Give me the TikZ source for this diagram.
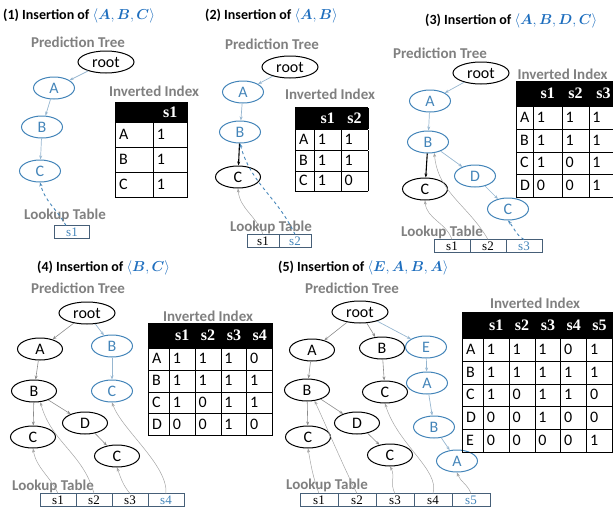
\documentclass[tikz,border=0pt]{standalone}
\usepackage{fontspec}
\setmainfont{Carlito}
\newfontfamily\hdfont{Liberation Serif}
\usepackage{amsmath}
\usepackage{colortbl}
\usetikzlibrary{shapes.geometric,arrows.meta,positioning}
\definecolor{nodeblue}{RGB}{68,133,185}
\definecolor{edgeblue}{RGB}{150,182,208}
\definecolor{edgegray}{RGB}{140,140,140}
\definecolor{ptrgray}{RGB}{165,165,165}
\definecolor{labelgray}{RGB}{128,128,128}
\definecolor{titleblue}{RGB}{30,110,190}
\definecolor{cellborder}{RGB}{70,95,120}
\setlength{\tabcolsep}{3pt}
\setlength{\arrayrulewidth}{0.8pt}
\newcommand{\rh}[1]{\rule[\dimexpr 4.5pt-#1/2\relax]{0pt}{#1}}
\newcommand{\hd}[1]{\makebox[\linewidth]{\color{white}\hdfont\bfseries #1}}
\newcommand{\seq}[1]{{\color{titleblue}$\langle #1\rangle$}}
\begin{document}
\begin{tikzpicture}[x=1pt,y=-1pt,
  >={Stealth[length=4pt,width=3pt]},
  nd/.style={ellipse,draw=black,line width=1pt,minimum width=45pt,minimum height=22pt,inner sep=0pt,font=\fontsize{16}{18}\selectfont},
  bnd/.style={nd,draw=nodeblue,text=nodeblue,minimum width=41pt},
  rnd/.style={nd,minimum width=56pt},
  lbl/.style={text=labelgray,font=\fontsize{15}{17}\selectfont\bfseries},
  ttl/.style={anchor=west,inner sep=0pt,font=\fontsize{14}{16}\selectfont\bfseries},
  tbl/.style={anchor=north west,inner sep=0pt,font=\fontsize{16}{18}\selectfont},
  tedge/.style={->,draw=edgegray,line width=0.6pt},
  bedge/.style={->,draw=edgeblue,line width=0.7pt},
  kedge/.style={->,draw=black,line width=1.1pt},
  lcell/.style={draw=cellborder,line width=0.8pt,minimum width=36pt,minimum height=13pt,inner sep=0pt,outer sep=0pt,font=\hdfont\fontsize{13}{14}\selectfont},
  ncell/.style={lcell,text=nodeblue},
  ptr/.style={->,draw=ptrgray,line width=0.5pt},
  nptr/.style={->,draw=nodeblue,dashed,line width=0.9pt}]
\useasboundingbox (0,0) rectangle (613,512);

% (1) insertion of A,B,C
\node[ttl] (t1) at (3,16) {(1) Insertion of \seq{\boldsymbol{A},\boldsymbol{B},\boldsymbol{C}}};
\node[lbl] (pt1) at (78,42) {Prediction Tree};
\node[rnd] (p1root) at (106,62) {root};
\node[bnd] (p1a) at (54,88) {A};
\node[bnd] (p1b) at (42,127) {B};
\node[bnd] (p1c) at (40,171) {C};
\draw[bedge] (p1root) -- (p1a);
\draw[bedge] (p1a) -- (p1b);
\draw[bedge] (p1b) -- (p1c);
\node[lbl] (ii1) at (154,91) {Inverted Index};
\node[tbl] (p1index) at (115,102) {%
\begin{tabular}{|p{31pt}|p{27pt}|}\hline
\rowcolor{black}\rh{19pt} & \hd{s1}\\\hline
\rh{24pt}A & 1\\\hline
\rh{24pt}B & 1\\\hline
\rh{24pt}C & 1\\\hline
\end{tabular}};
\node[lbl] (lt1) at (65,215) {Lookup Table};
\node[ncell,minimum width=35pt] (p1s1) at (72,232) {s1};
\draw[nptr] ([xshift=-6pt]p1s1.north) to[out=120,in=-75] (p1c.south);

% (2) insertion of A,B
\node[ttl] (t2) at (205,16) {(2) Insertion of \seq{\boldsymbol{A},\boldsymbol{B}}};
\node[lbl] (pt2) at (272,44) {Prediction Tree};
\node[rnd] (p2root) at (290,67) {root};
\node[bnd] (p2a) at (243,92) {A};
\node[bnd] (p2b) at (240,132) {B};
\node[nd] (p2c) at (238,177) {C};
\draw[bedge] (p2root) -- (p2a);
\draw[bedge] (p2a) -- (p2b);
\draw[kedge] (p2b) -- (p2c);
\node[lbl] (ii2) at (330,94) {Inverted Index};
\node[tbl] (p2index) at (295,107) {%
\begin{tabular}{|p{12pt}|p{20pt}|p{20pt}|}\hline
\rowcolor{black}\rh{21pt} & \hd{s1} & \hd{s2}\\\hline
\rh{20pt}A & 1 & 1\\\hline
\rh{20pt}B & 1 & 1\\\hline
\rh{20pt}C & 1 & 0\\\hline
\end{tabular}};
\node[lbl] (lt2) at (271,227) {Lookup Table};
\node[lcell,minimum width=32pt] (p2s1) at (263,241) {s1};
\node[ncell,minimum width=32pt,right=0pt of p2s1] (p2s2) {s2};
\draw[ptr] (p2s1.north) to[out=110,in=-85] (p2c.south);
\draw[nptr] (p2s2.north) to[out=115,in=-75] (p2b.south);

% (3) insertion of A,B,D,C
\node[ttl] (t3) at (425,21) {(3) Insertion of \seq{\boldsymbol{A},\boldsymbol{B},\boldsymbol{D},\boldsymbol{C}}};
\node[lbl] (pt3) at (440,53) {Prediction Tree};
\node[rnd] (p3root) at (481,73) {root};
\node[bnd] (p3a) at (430,101) {A};
\node[bnd] (p3b) at (428,142) {B};
\node[nd] (p3c) at (425,189) {C};
\node[bnd] (p3d) at (475,176) {D};
\node[bnd] (p3c2) at (508,209) {C};
\draw[bedge] (p3root) -- (p3a);
\draw[bedge] (p3a) -- (p3b);
\draw[kedge] (p3b) -- (p3c);
\draw[bedge] (p3b) -- (p3d);
\draw[bedge] (p3d) -- (p3c2);
\node[lbl,anchor=west] (ii3) at (514,74) {Inverted Index};
\node[tbl] (p3index) at (516,81) {%
\begin{tabular}{|p{10pt}|p{22pt}|p{20pt}|p{22pt}|}\hline
\rowcolor{black}\rh{24pt} & \hd{s1} & \hd{s2} & \hd{s3}\\\hline
\rh{22pt}A & 1 & 1 & 1\\\hline
\rh{22pt}B & 1 & 1 & 1\\\hline
\rh{22pt}C & 1 & 0 & 1\\\hline
\rh{22pt}D & 0 & 0 & 1\\\hline
\end{tabular}};
\node[lbl] (lt3) at (442,232) {Lookup Table};
\node[lcell] (p3s1) at (452,246) {s1};
\node[lcell,right=0pt of p3s1] (p3s2) {s2};
\node[ncell,right=0pt of p3s2] (p3s3) {s3};
\draw[ptr] (p3s1.north) to[out=110,in=-85] (p3c.south);
\draw[ptr] (p3s2.north) to[out=120,in=-85] (p3b.-60);
\draw[nptr] (p3s3.north) to[out=150,in=-50] (p3c2.south);

% (4) insertion of B,C
\node[ttl] (t4) at (37,268) {(4) Insertion of \seq{\boldsymbol{B},\boldsymbol{C}}};
\node[lbl] (pt4) at (78,288) {Prediction Tree};
\node[rnd] (p4root) at (87,313) {root};
\node[nd] (p4a) at (40,349) {A};
\node[bnd] (p4b2) at (112,346) {B};
\node[nd] (p4b) at (34,391) {B};
\node[bnd] (p4c2) at (112,391) {C};
\node[nd] (p4d) at (85,423) {D};
\node[nd] (p4c) at (33,437) {C};
\node[nd] (p4c3) at (117,456) {C};
\draw[tedge] (p4root) -- (p4a);
\draw[tedge] (p4a) -- (p4b);
\draw[tedge] (p4b) -- (p4c);
\draw[tedge] (p4b) -- (p4d);
\draw[tedge] (p4d) -- (p4c3);
\draw[bedge] (p4root) -- (p4b2);
\draw[bedge] (p4b2) -- (p4c2);
\node[lbl] (ii4) at (208,316) {Inverted Index};
\node[tbl] (p4index) at (148,323) {%
\begin{tabular}{|p{14pt}|p{19pt}|p{19pt}|p{19pt}|p{19pt}|}\hline
\rowcolor{black}\rh{24pt} & \hd{s1} & \hd{s2} & \hd{s3} & \hd{s4}\\\hline
\rh{21pt}A & 1 & 1 & 1 & 0\\\hline
\rh{21pt}B & 1 & 1 & 1 & 1\\\hline
\rh{21pt}C & 1 & 0 & 1 & 1\\\hline
\rh{21pt}D & 0 & 0 & 1 & 0\\\hline
\end{tabular}};
\node[lbl] (lt4) at (53,486) {Lookup Table};
\node[lcell] (p4s1) at (58,500) {s1};
\node[lcell,right=0pt of p4s1] (p4s2) {s2};
\node[lcell,right=0pt of p4s2] (p4s3) {s3};
\node[ncell,right=0pt of p4s3] (p4s4) {s4};
\draw[ptr] (p4s1.north) to[out=115,in=-80] (p4c.south);
\draw[ptr] (p4s2.north) to[out=105,in=-75] (p4b.-60);
\draw[ptr] (p4s3.north) to[out=130,in=-70] (p4c3.south);
\draw[ptr] (p4s4.north) .. controls (168,465) and (122,430) .. (p4c2.south);

% (5) insertion of E,A,B,A
\node[ttl] (t5) at (278,268) {(5) Insertion of \seq{\boldsymbol{E},\boldsymbol{A},\boldsymbol{B},\boldsymbol{A}}};
\node[lbl] (pt5) at (352,288) {Prediction Tree};
\node[rnd] (p5root) at (360,312) {root};
\node[nd] (p5a) at (312,350) {A};
\node[nd] (p5b2) at (382,348) {B};
\node[bnd] (p5e) at (426,347) {E};
\node[nd] (p5b) at (307,390) {B};
\node[nd] (p5c2) at (385,392) {C};
\node[bnd] (p5a2) at (427,383) {A};
\node[nd] (p5d) at (357,423) {D};
\node[bnd] (p5b3) at (434,427) {B};
\node[nd] (p5c) at (308,437) {C};
\node[nd] (p5c3) at (390,455) {C};
\node[bnd] (p5a3) at (457,461) {A};
\draw[tedge] (p5root) -- (p5a);
\draw[tedge] (p5a) -- (p5b);
\draw[tedge] (p5b) -- (p5c);
\draw[tedge] (p5b) -- (p5d);
\draw[tedge] (p5d) -- (p5c3);
\draw[tedge] (p5root) -- (p5b2);
\draw[tedge] (p5b2) -- (p5c2);
\draw[bedge] (p5root) -- (p5e);
\draw[bedge] (p5e) -- (p5a2);
\draw[bedge] (p5a2) -- (p5b3);
\draw[bedge] (p5b3) -- (p5a3);
\node[lbl] (ii5) at (535,303) {Inverted Index};
\node[tbl] (p5index) at (462,312) {%
\begin{tabular}{|p{14pt}|p{19pt}|p{19pt}|p{19pt}|p{19pt}|p{19pt}|}\hline
\rowcolor{black}\rh{25pt} & \hd{s1} & \hd{s2} & \hd{s3} & \hd{s4} & \hd{s5}\\\hline
\rh{22pt}A & 1 & 1 & 1 & 0 & 1\\\hline
\rh{22pt}B & 1 & 1 & 1 & 1 & 1\\\hline
\rh{22pt}C & 1 & 0 & 1 & 1 & 0\\\hline
\rh{22pt}D & 0 & 0 & 1 & 0 & 0\\\hline
\rh{22pt}E & 0 & 0 & 0 & 0 & 1\\\hline
\end{tabular}};
\node[lbl] (lt5) at (327,485) {Lookup Table};
\node[lcell,minimum width=38pt] (p5s1) at (319,500) {s1};
\node[lcell,minimum width=38pt,right=0pt of p5s1] (p5s2) {s2};
\node[lcell,minimum width=38pt,right=0pt of p5s2] (p5s3) {s3};
\node[lcell,minimum width=38pt,right=0pt of p5s3] (p5s4) {s4};
\node[ncell,minimum width=38pt,right=0pt of p5s4] (p5s5) {s5};
\draw[ptr] (p5s1.north) to[out=110,in=-80] (p5c.south);
\draw[ptr] (p5s2.north) .. controls (345,470) and (328,430) .. (p5b.-55);
\draw[ptr] (p5s3.north) to[out=120,in=-60] (p5c3.south);
\draw[ptr] (p5s4.north) .. controls (440,470) and (398,445) .. (p5c2.south);
\draw[ptr] (p5s5.north) to[out=110,in=-70] (p5a3.south);
\end{tikzpicture}
\end{document}
